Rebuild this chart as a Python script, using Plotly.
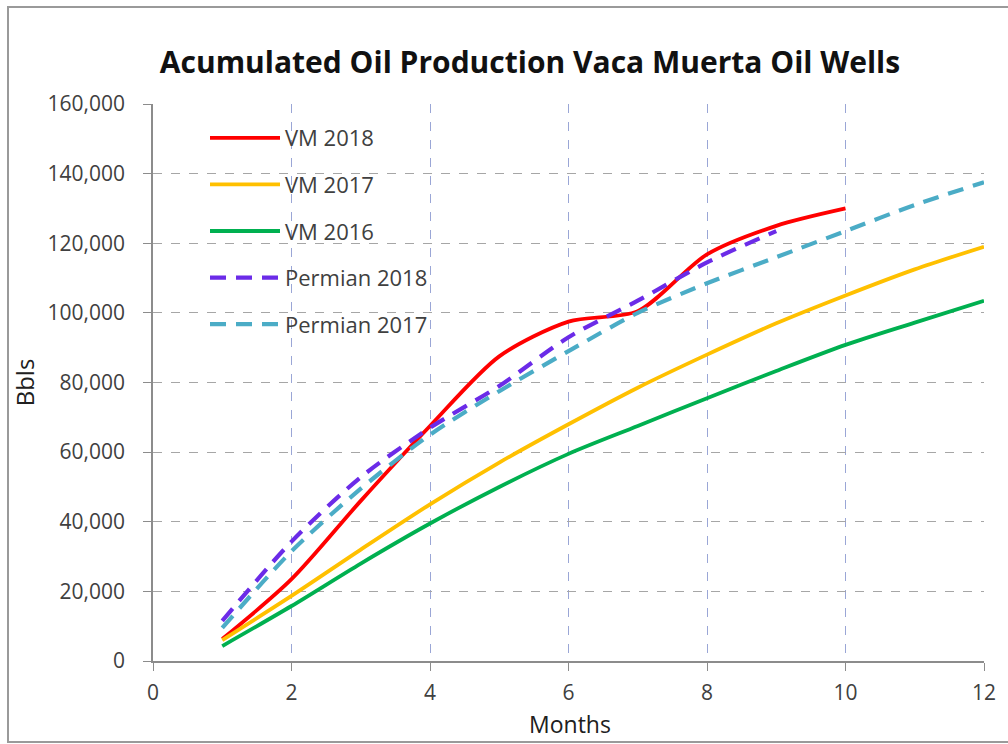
import plotly.graph_objects as go

months_vm2018 = [1, 2, 3, 4, 5, 6, 7, 8, 9, 10]
vm2018 = [6300, 23500, 46000, 67500, 87500, 97500, 100500, 116800, 125000, 130000]

months_vm2017 = [1, 2, 3, 4, 5, 6, 7, 8, 9, 10, 11, 12]
vm2017 = [6000, 18700, 32000, 45000, 57000, 68000, 78500, 88000, 97000, 105000, 112500, 119000]

months_vm2016 = [1, 2, 3, 4, 5, 6, 7, 8, 9, 10, 11, 12]
vm2016 = [4300, 15800, 28000, 39500, 50000, 59500, 67500, 75500, 83300, 90800, 97200, 103500]

months_p2018 = [1, 2, 3, 4, 5, 6, 7, 8, 9]
permian2018 = [11500, 34300, 52800, 67000, 79000, 93000, 103500, 114500, 123500]

months_p2017 = [1, 2, 3, 4, 5, 6, 7, 8, 9, 10, 11, 12]
permian2017 = [9500, 31500, 49500, 65000, 77500, 89000, 100000, 108500, 116000, 123500, 131000, 137500]

x_ticks = [0, 2, 4, 6, 8, 10, 12]
y_ticks = [0, 20000, 40000, 60000, 80000, 100000, 120000, 140000, 160000]

fig = go.Figure()

series = [
    ("VM 2018", months_vm2018, vm2018, "#FF0000", None, 3.8),
    ("VM 2017", months_vm2017, vm2017, "#FFC000", None, 3.8),
    ("VM 2016", months_vm2016, vm2016, "#00B050", None, 3.8),
    ("Permian 2018", months_p2018, permian2018, "#6B2BE8", "16px,10px", 4.2),
    ("Permian 2017", months_p2017, permian2017, "#4BACC6", "16px,10px", 4.2),
]
for i, (name, xs, ys, col, dash, w) in enumerate(series):
    fig.add_trace(go.Scatter(
        x=xs, y=ys, name=name, mode="lines",
        line=dict(color=col, width=w, shape="spline", smoothing=0.8,
                  dash=dash if dash else "solid"),
        legendgroup=f"g{i}",
    ))

L, R, T, B = 153, 24, 104, 83
W, H = 1008, 744
pw, ph = W - L - R, H - T - B

fig.update_layout(
    width=W, height=H,
    margin=dict(l=L, r=R, t=T, b=B),
    paper_bgcolor="white", plot_bgcolor="white",
    font=dict(family="Open Sans, Liberation Sans, sans-serif", color="#404040"),
    title=dict(text="<b>Acumulated Oil Production Vaca Muerta Oil Wells</b>",
               x=530 / W, xref="container", xanchor="center",
               y=1 - 62 / H, yref="container", yanchor="middle",
               font=dict(size=30, color="#111111")),
    legend=dict(x=(205 - L) / pw, y=1 - (117 - T) / ph, xanchor="left", yanchor="top",
                bgcolor="rgba(255,255,255,0)", font=dict(size=22, color="#404040"),
                itemwidth=70, tracegroupgap=15, traceorder="grouped"),
    showlegend=True,
)

fig.update_xaxes(
    range=[0, 12], tickvals=x_ticks, ticktext=[str(v) for v in x_ticks],
    showline=True, linecolor="#8c8c8c", linewidth=1.5,
    ticks="outside", ticklen=8, tickcolor="#8c8c8c",
    ticklabelstandoff=4,
    showgrid=True, gridcolor="#9aa6d6", griddash="dash", gridwidth=1,
    zeroline=False,
    tickfont=dict(size=21, color="#404040"),
)
fig.update_yaxes(
    range=[0, 160000], tickvals=y_ticks, tickformat=",",
    showline=True, linecolor="#8c8c8c", linewidth=1.5,
    ticks="outside", ticklen=8, tickcolor="#8c8c8c",
    ticklabelstandoff=14,
    showgrid=True, gridcolor="#a6a6a6", griddash="dash", gridwidth=1,
    zeroline=False,
    tickfont=dict(size=21, color="#404040"),
    title=dict(text="Bbls", font=dict(size=24, color="#202020"), standoff=6),
)

# x axis title
fig.add_annotation(text="Months", xref="paper", yref="paper",
                   x=(570 - L) / pw, y=-(724 - (T + ph)) / ph,
                   xanchor="center", yanchor="middle", showarrow=False,
                   font=dict(size=23, color="#202020"))

# outer chart frame
fig.add_shape(type="rect", xref="paper", yref="paper",
              x0=(8 - L) / pw, x1=(1012 - L) / pw,
              y0=-(742 - (T + ph)) / ph, y1=1 + (T - 7) / ph,
              line=dict(color="#9a9a9a", width=2), fillcolor="rgba(0,0,0,0)", layer="below")

fig.write_html("out.html", config={"displayModeBar": False},
               post_script="document.body.style.margin='0px';")
